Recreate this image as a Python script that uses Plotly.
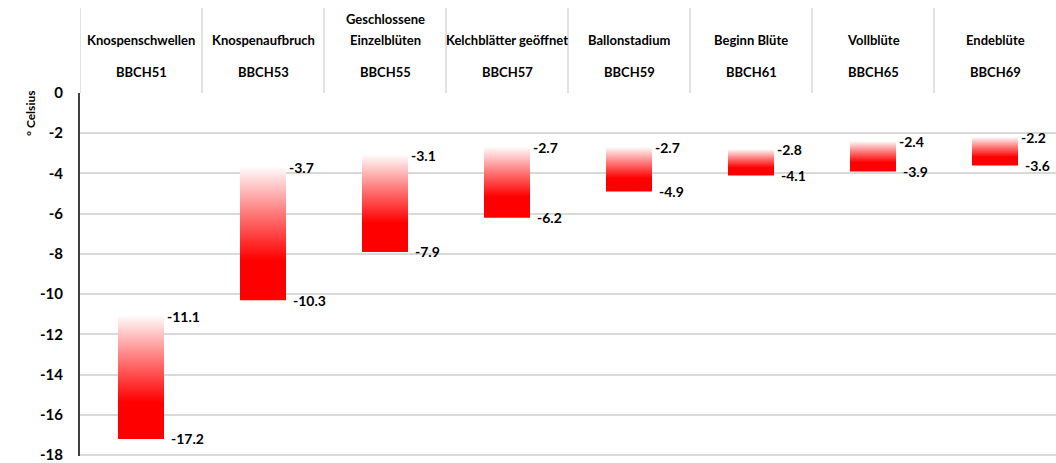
import plotly.graph_objects as go

# ---- data ----
stages = ["Knospenschwellen", "Knospenaufbruch", "Geschlossene\nEinzelblüten",
          "Kelchblätter geöffnet", "Ballonstadium", "Beginn Blüte", "Vollblüte", "Endeblüte"]
codes = ["BBCH51", "BBCH53", "BBCH55", "BBCH57", "BBCH59", "BBCH61", "BBCH65", "BBCH69"]
upper = [-11.1, -3.7, -3.1, -2.7, -2.7, -2.8, -2.4, -2.2]
lower = [-17.2, -10.3, -7.9, -6.2, -4.9, -4.1, -3.9, -3.6]
y_ticks = [0, -2, -4, -6, -8, -10, -12, -14, -16, -18]

# ---- style ----
FONT = "Lato"
BAR_W = 0.377
ML, MR, MT, MB = 80, 0, 93, 7
W, H = 1056, 463
plot_h = H - MT - MB
header_h = 85
grad = [[0, "rgb(255,0,0)"], [0.3, "rgb(255,0,0)"], [0.65, "rgb(255,120,120)"], [1, "rgb(255,250,250)"]]

fig = go.Figure()
n = len(stages)
for i in range(n):
    lo, hi = lower[i], upper[i]
    x0, x1 = i - BAR_W / 2, i + BAR_W / 2
    fig.add_trace(go.Scatter(
        x=[x0, x1, x1, x0, x0], y=[lo, lo, hi, hi, lo],
        mode="lines", fill="toself", line=dict(width=0),
        fillgradient=dict(type="vertical", colorscale=grad),
        hoverinfo="skip", showlegend=False))

annotations = []
for i in range(n):
    annotations.append(dict(x=i + BAR_W / 2, y=upper[i], xref="x", yref="y",
                            text=f"{upper[i]:.1f}", showarrow=False, xanchor="left",
                            yanchor="middle", xshift=1,
                            font=dict(family=FONT, size=14, color="black", weight="bold")))
    annotations.append(dict(x=i + BAR_W / 2, y=lower[i], xref="x", yref="y",
                            text=f"{lower[i]:.1f}", showarrow=False, xanchor="left",
                            yanchor="middle", xshift=5,
                            font=dict(family=FONT, size=14, color="black", weight="bold")))
    lines = stages[i].split("\n")
    for k, ln in enumerate(reversed(lines)):
        annotations.append(dict(x=i, y=1, xref="x", yref="paper", text=ln, showarrow=False,
                                xanchor="center", yanchor="middle", yshift=53 + 21 * k,
                                font=dict(family=FONT, size=13, color="black", weight="bold")))
    annotations.append(dict(x=i, y=1, xref="x", yref="paper", text=codes[i], showarrow=False,
                            xanchor="center", yanchor="middle", yshift=21,
                            font=dict(family=FONT, size=13, color="black", weight="bold")))

annotations.append(dict(x=0, y=1, xref="paper", yref="paper", text="° Celsius", showarrow=False,
                        textangle=-90, xanchor="center", yanchor="middle", xshift=-50, yshift=-21,
                        font=dict(family=FONT, size=12, color="black", weight="bold")))

shapes = []
for i in range(n):
    shapes.append(dict(type="line", xref="x", yref="paper", x0=i - 0.5, x1=i - 0.5,
                       y0=1, y1=1 + header_h / plot_h,
                       line=dict(color="#d9d9d9", width=1.5)))

fig.update_layout(
    width=W, height=H,
    margin=dict(l=ML, r=MR, t=MT, b=MB),
    paper_bgcolor="white", plot_bgcolor="white",
    xaxis=dict(range=[-0.5, n - 0.5], showgrid=False, zeroline=False,
               showticklabels=False, ticks="", fixedrange=True),
    yaxis=dict(range=[-18.05, 0], tickvals=y_ticks, ticktext=[str(v) for v in y_ticks],
               showgrid=True, gridcolor="#d9d9d9", gridwidth=1.5, zeroline=False,
               showline=True, linecolor="#404040", linewidth=2, ticks="", ticklen=0,
               tickfont=dict(family=FONT, size=15, color="black", weight="bold"),
               ticklabelstandoff=12, ticklabeloverflow="allow",
               fixedrange=True, automargin=False),
    annotations=annotations, shapes=shapes,
    showlegend=False,
)
fig.write_html("out.html", config={"displayModeBar": False},
               post_script="document.body.style.margin='0';document.body.style.overflow='hidden';")
